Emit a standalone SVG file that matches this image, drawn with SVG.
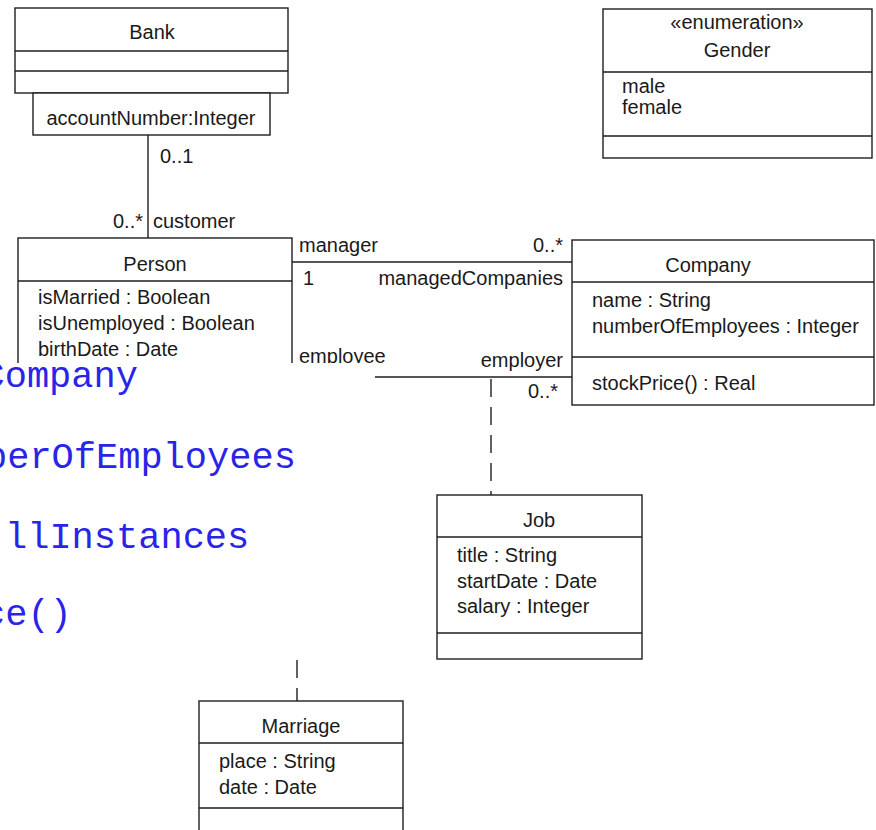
<svg xmlns="http://www.w3.org/2000/svg" width="876" height="830" viewBox="0 0 876 830">
  <style>
    .box { fill: #ffffff; stroke: #1e1e1e; stroke-width: 1.4; }
    .sep { stroke: #1e1e1e; stroke-width: 1.4; fill: none; }
    .edge { stroke: #1e1e1e; stroke-width: 1.4; fill: none; }
    .dash { stroke: #1e1e1e; stroke-width: 1.4; fill: none; stroke-dasharray: 18 10; }
    .t { font-family: "Liberation Sans", Arial, sans-serif; font-size: 20px; fill: #1a1a1a; }
    .c { text-anchor: middle; }
    .r { text-anchor: end; }
    .code { font-family: "Liberation Mono", "Courier New", monospace; font-size: 37px; fill: #2a24e8; }
  </style>

  <rect width="876" height="830" fill="#ffffff"/>

  <!-- associations -->
  <g id="connectors">
    <!-- Bank (qualified) to Person -->
    <line class="edge" x1="148" y1="135" x2="148" y2="238"/>
    <text class="t" x="160" y="163">0..1</text>
    <text class="t r" x="143" y="228">0..*</text>
    <text class="t" x="153" y="228">customer</text>
    <!-- Person manager to Company -->
    <line class="edge" x1="292" y1="262" x2="572" y2="262"/>
    <text class="t" x="299" y="252">manager</text>
    <text class="t r" x="563" y="252">0..*</text>
    <text class="t" x="303" y="285">1</text>
    <text class="t r" x="563" y="285">managedCompanies</text>
    <!-- Person employee to Company -->
    <line class="edge" x1="292" y1="377" x2="572" y2="377"/>
    <text class="t" x="299" y="363">employee</text>
    <text class="t r" x="563" y="367">employer</text>
    <text class="t r" x="558" y="398">0..*</text>
    <!-- association class links -->
    <line class="dash" x1="491" y1="379" x2="491" y2="495"/>
    <line class="dash" x1="297" y1="660" x2="297" y2="701" stroke-dasharray="18 14"/>
  </g>

  <g id="bank">
    <rect class="box" x="15" y="8" width="273" height="85"/>
    <line class="sep" x1="15" y1="51" x2="288" y2="51"/>
    <line class="sep" x1="15" y1="71" x2="288" y2="71"/>
    <text class="t c" x="152" y="39">Bank</text>
    <rect class="box" x="33" y="93" width="237" height="42"/>
    <text class="t c" x="151" y="125">accountNumber:Integer</text>
  </g>

  <g id="gender">
    <rect class="box" x="603" y="9" width="269" height="149"/>
    <line class="sep" x1="603" y1="72" x2="872" y2="72"/>
    <line class="sep" x1="603" y1="136" x2="872" y2="136"/>
    <text class="t c" x="737" y="29">«enumeration»</text>
    <text class="t c" x="737" y="57">Gender</text>
    <text class="t" x="622" y="93">male</text>
    <text class="t" x="622" y="114">female</text>
  </g>

  <g id="person">
    <rect class="box" x="18" y="238" width="274" height="190"/>
    <line class="sep" x1="18" y1="281" x2="292" y2="281"/>
    <text class="t c" x="155" y="271">Person</text>
    <text class="t" x="38" y="304">isMarried : Boolean</text>
    <text class="t" x="38" y="330">isUnemployed : Boolean</text>
    <text class="t" x="38" y="356">birthDate : Date</text>
  </g>

  <g id="company">
    <rect class="box" x="572" y="240" width="302" height="165"/>
    <line class="sep" x1="572" y1="282" x2="874" y2="282"/>
    <line class="sep" x1="572" y1="357" x2="874" y2="357"/>
    <text class="t c" x="708" y="272">Company</text>
    <text class="t" x="592" y="307">name : String</text>
    <text class="t" x="592" y="333">numberOfEmployees : Integer</text>
    <text class="t" x="592" y="390">stockPrice() : Real</text>
  </g>

  <g id="job">
    <rect class="box" x="437" y="495" width="205" height="164"/>
    <line class="sep" x1="437" y1="537" x2="642" y2="537"/>
    <line class="sep" x1="437" y1="633" x2="642" y2="633"/>
    <text class="t c" x="539" y="527">Job</text>
    <text class="t" x="457" y="562">title : String</text>
    <text class="t" x="457" y="588">startDate : Date</text>
    <text class="t" x="457" y="613">salary : Integer</text>
  </g>

  <g id="marriage">
    <rect class="box" x="199" y="701" width="204" height="140"/>
    <line class="sep" x1="199" y1="743" x2="403" y2="743"/>
    <line class="sep" x1="199" y1="808" x2="403" y2="808"/>
    <text class="t c" x="301" y="733">Marriage</text>
    <text class="t" x="219" y="768">place : String</text>
    <text class="t" x="219" y="794">date : Date</text>
  </g>

  <!-- pasted code panel laid over the left part -->
  <g id="code-panel">
    <rect x="0" y="363" width="375" height="297" fill="#ffffff"/>
    <text class="code" x="-17.5" y="387">Company</text>
    <text class="code" x="-15" y="468">berOfEmployees</text>
    <text class="code" x="5" y="548">llInstances</text>
    <text class="code" x="-17" y="625">ce()</text>
  </g>
</svg>
